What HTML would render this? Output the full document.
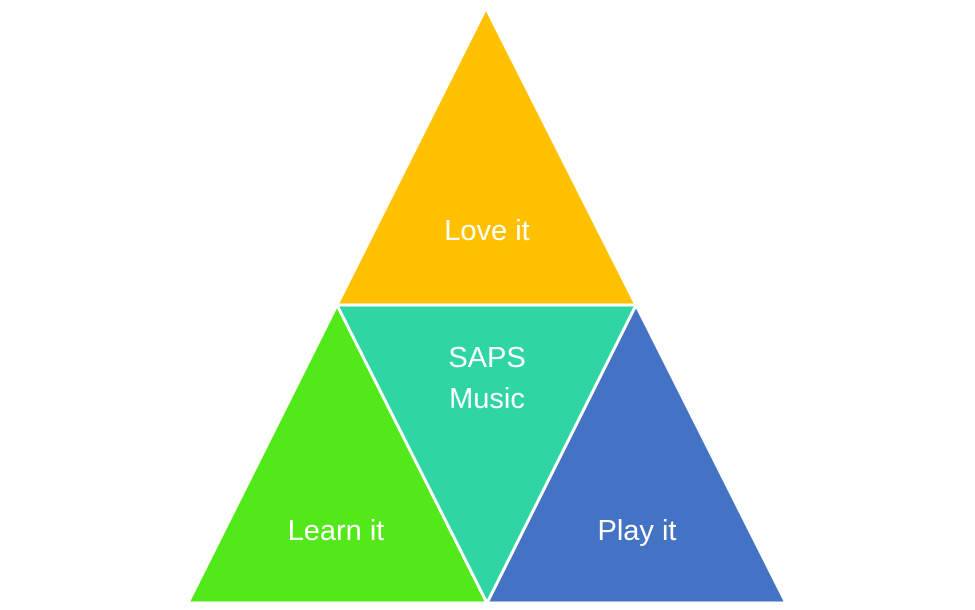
<!DOCTYPE html>
<html><head><style>body{margin:0;background:#fff}svg{display:block}text{font-family:"Liberation Sans",sans-serif;fill:#fff;font-size:29px;text-anchor:middle}</style></head>
<body><svg width="975" height="610" viewBox="0 0 975 610">
<g stroke="#fff" stroke-width="3" stroke-linejoin="miter">
<polygon points="486,8 636,305 337,305" fill="#FFC000"/>
<polygon points="337,305 487,603 188,603" fill="#52E81A"/>
<polygon points="636,305 786,603 487,603" fill="#4472C4"/>
<polygon points="337,305 636,305 487,603" fill="#2FD5A2"/>
</g>
<text x="487" y="240">Love it</text>
<text x="487" y="367">SAPS</text>
<text x="487" y="408">Music</text>
<text x="336" y="540">Learn it</text>
<text x="637" y="540">Play it</text>
</svg></body></html>
